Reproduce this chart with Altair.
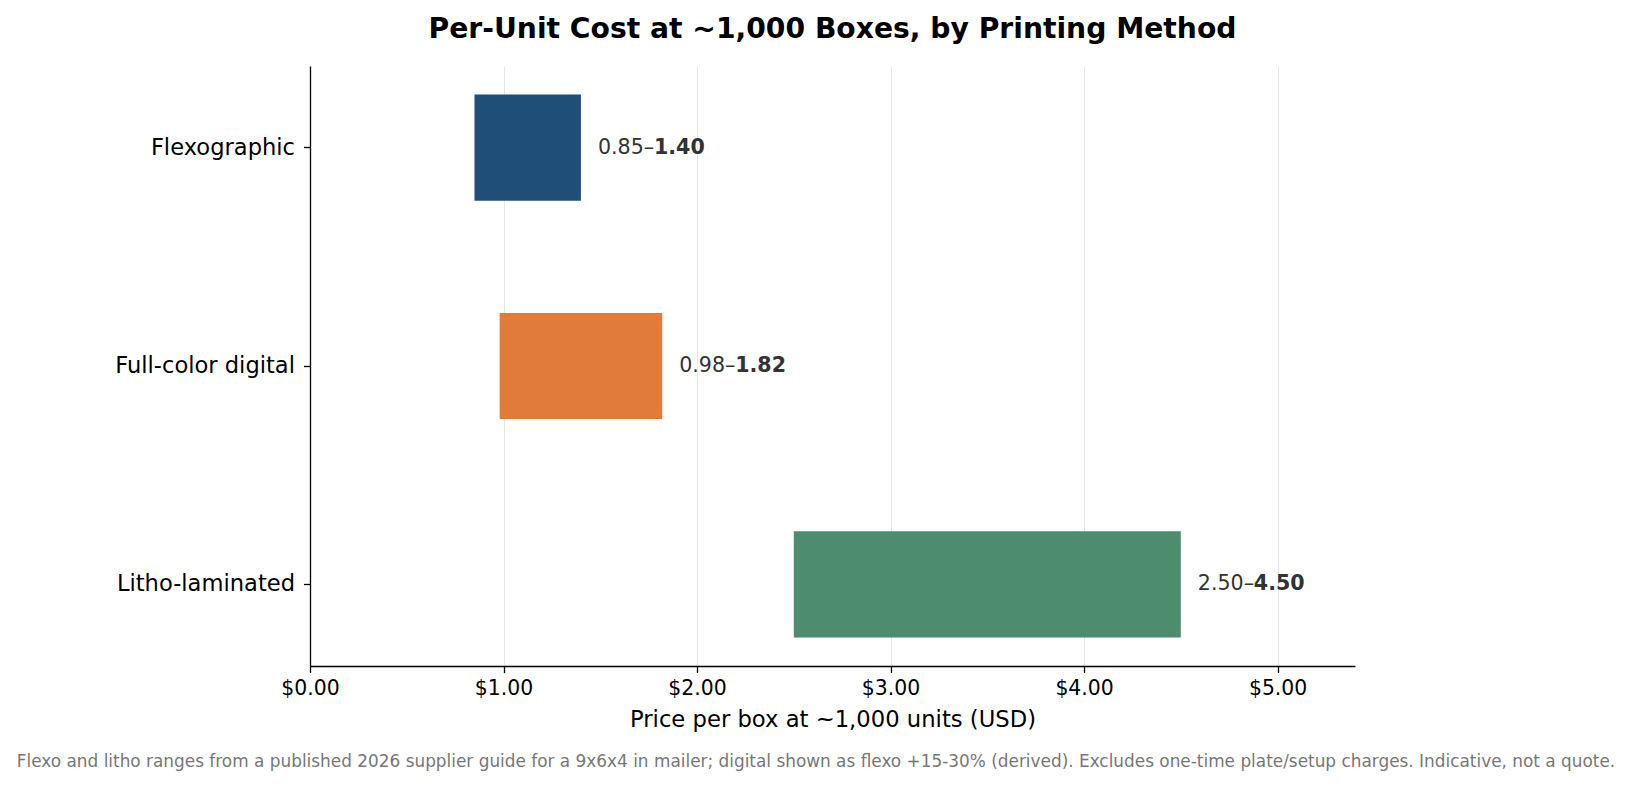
import pandas as pd
import altair as alt

# printing methods and their per-unit price ranges (USD) at ~1,000 boxes
methods = ["Flexographic", "Full-color digital", "Litho-laminated"]
low_cost = [0.85, 0.98, 2.50]
high_cost = [1.40, 1.82, 4.50]
bar_colors = ["#1f4e79", "#e07b39", "#4e8c6e"]
x_ticks = [0, 1, 2, 3, 4, 5]

title_text = "Per-Unit Cost at ~1,000 Boxes, by Printing Method"
x_title = "Price per box at ~1,000 units (USD)"
footnote = ("Flexo and litho ranges from a published 2026 supplier guide for a 9x6x4 in mailer; "
            "digital shown as flexo +15-30% (derived). Excludes one-time plate/setup charges. "
            "Indicative, not a quote.")

font = "DejaVu Sans"

df = pd.DataFrame({"method": methods, "low": low_cost, "high": high_cost})
df["low_label"] = df["low"].map(lambda v: f"{v:.2f}\u2013")
df["high_label"] = df["high"].map(lambda v: f"{v:.2f}")

y_enc = alt.Y(
    "method:N",
    sort=methods,
    title=None,
    scale=alt.Scale(paddingInner=0.514, paddingOuter=0.131),
    axis=alt.Axis(
        labelFontSize=22.6, labelColor="black", labelPadding=9,
        tickSize=6.5, tickColor="black", tickWidth=1.3,
        domainColor="black", domainWidth=1.3, grid=False,
    ),
)

# floating bars from low to high price
bars = alt.Chart(df).mark_bar().encode(
    x=alt.X(
        "low:Q",
        scale=alt.Scale(domain=[0, 5.4], nice=False),
        axis=alt.Axis(
            values=x_ticks, format="$.2f", title=x_title, labelFlush=False,
            labelFontSize=20.4, labelColor="black", labelPadding=6,
            titleFontSize=22.7, titleFontWeight="normal", titleColor="black", titlePadding=10,
            tickSize=6.5, tickColor="black", tickWidth=1.3,
            domainColor="black", domainWidth=1.3,
            grid=True, gridColor="#e6e6e6", gridWidth=1,
        ),
    ),
    x2="high:Q",
    y=y_enc,
    color=alt.Color("method:N", scale=alt.Scale(domain=methods, range=bar_colors), legend=None),
)

# range labels: regular low value, bold high value
low_text = alt.Chart(df).mark_text(
    align="left", baseline="middle", dx=17, fontSize=20.6, color="#333333"
).encode(x="high:Q", y=alt.Y("method:N", sort=methods), text="low_label:N")

high_text = alt.Chart(df).mark_text(
    align="left", baseline="middle", dx=73, fontSize=20.6, fontWeight="bold", color="#333333"
).encode(x="high:Q", y=alt.Y("method:N", sort=methods), text="high_label:N")

note = alt.Chart(pd.DataFrame({"note": [footnote]})).mark_text(
    align="center", baseline="middle", fontSize=16.9, color="#777777"
).encode(x=alt.value(506), y=alt.value(696), text="note:N")

chart = (bars + low_text + high_text + note).properties(
    width=1045,
    height=600,
    title=alt.TitleParams(title_text, fontSize=28.2, fontWeight="bold", font=font,
                          color="black", anchor="middle", frame="group", offset=22),
    autosize=alt.AutoSizeParams(type="none"),
    padding={"left": 302, "top": 58, "right": 269, "bottom": 110},
).configure_view(stroke=None).configure_axis(
    labelFont=font, titleFont=font
).configure_text(font=font)

chart.save("out.html", embed_options={"renderer": "svg", "actions": False})
